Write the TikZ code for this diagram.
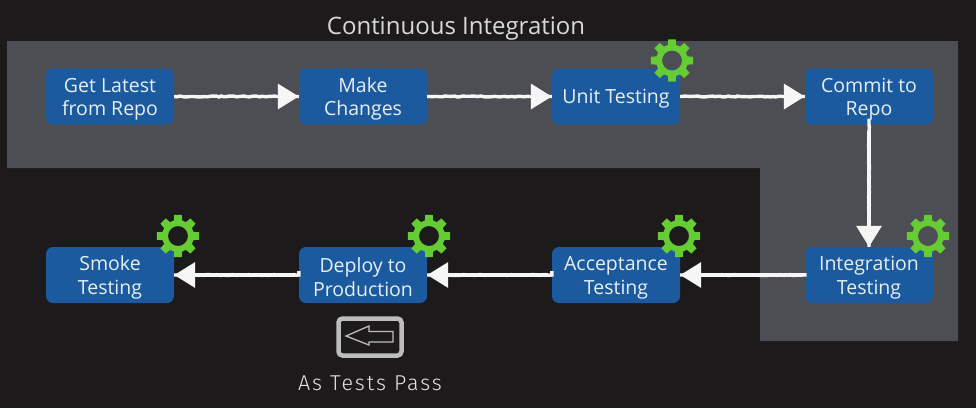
\documentclass[tikz,border=0pt]{standalone}
\usepackage{fontspec}
\setmainfont{Open Sans}
\newfontfamily\handfont[LetterSpace=9]{Fira Sans Light}
\usetikzlibrary{arrows.meta,decorations.pathmorphing}
\definecolor{bgdark}{HTML}{1D1A1C}
\definecolor{panelgrey}{HTML}{4C4E54}
\definecolor{boxblue}{HTML}{1B5A9F}
\definecolor{boxtext}{HTML}{E6EFF7}
\definecolor{geargreen}{HTML}{66CC33}
\definecolor{chalk}{HTML}{F6F6F6}
\definecolor{chalkgrey}{HTML}{BDBDBD}
\newcommand{\liftline}{\rule{0pt}{19.5pt}}
\tikzset{
  stepbox/.style={fill=boxblue,rounded corners=7pt,minimum width=128pt,minimum height=56pt,
    inner sep=0pt,align=center,text=boxtext,font=\fontsize{19.5}{23.5}\selectfont},
  flow/.style={draw=chalk,line width=3.4pt,-{Triangle[length=21pt,width=25pt,fill=chalk]},
    preaction={arrows=-,draw=chalk,line width=3.4pt,decorate,decoration={random steps,segment length=2.5pt,amplitude=0.5pt,post length=22pt}}},
  gearpic/.pic={
    \fill[geargreen,even odd rule]
      (-15:16) \foreach \a in {0,45,...,315}{
        -- ({\a-15}:16) -- ({\a-10}:21.5) -- ({\a+10}:21.5) -- ({\a+15}:16)
      } -- cycle (0,0) circle (10);
  }
}
\begin{document}
\begin{tikzpicture}[x=1pt,y=-1pt]
\useasboundingbox (0,0) rectangle (976,408);
\fill[bgdark] (0,0) rectangle (976,408);
\fill[panelgrey] (7,41) -- (958,41) -- (958,341) -- (760,341) -- (760,168) -- (7,168) -- cycle;
\node[text=black!15,font=\fontsize{24}{28}\selectfont] (title) at (456,28.5) {Continuous Integration};

\node[stepbox] (repo) at (110,96.5) {\liftline Get Latest\\from Repo};
\node[stepbox] (change) at (363,96.5) {\liftline Make\\Changes};
\node[stepbox] (unit) at (616,96.5) {\rule{0pt}{19pt}Unit Testing};
\node[stepbox] (commit) at (869,96.5) {\liftline Commit to\\Repo};
\node[stepbox] (integ) at (869,275) {\liftline Integration\\Testing};
\node[stepbox] (accept) at (616,275) {\liftline Acceptance\\Testing};
\node[stepbox] (deploy) at (363,275) {\liftline Deploy to\\Production};
\node[stepbox] (smoke) at (110,275) {\liftline Smoke\\Testing};

\draw[flow] (repo) -- (change);
\draw[flow] (change) -- (unit);
\draw[flow] (unit) -- (commit);
\draw[flow,shorten <=6pt] (commit) -- (integ);
\draw[flow,shorten <=2pt] (integ) -- (accept);
\draw[flow,shorten <=4pt] (accept) -- (deploy);
\draw[flow,shorten <=4pt] (deploy) -- (smoke);

\pic at (672,60.5) {gearpic};
\pic at (928,236) {gearpic};
\pic at (679,236) {gearpic};
\pic at (429,236) {gearpic};
\pic at (178,236) {gearpic};

\node[draw=chalkgrey,line width=4.5pt,rounded corners=4pt,minimum width=63pt,minimum height=37pt,inner sep=0pt] (key) at (370,337) {};
\draw[chalkgrey,line width=1.3pt] (393,331.5) -- (369,331.5) -- (369,326) -- (346,336) -- (369,345) -- (369,342) -- (393,342) -- cycle;
\node[text=black!10,font=\handfont\fontsize{21.5}{24}\selectfont] (pass) at (370,383) {As Tests Pass};
\end{tikzpicture}
\end{document}
